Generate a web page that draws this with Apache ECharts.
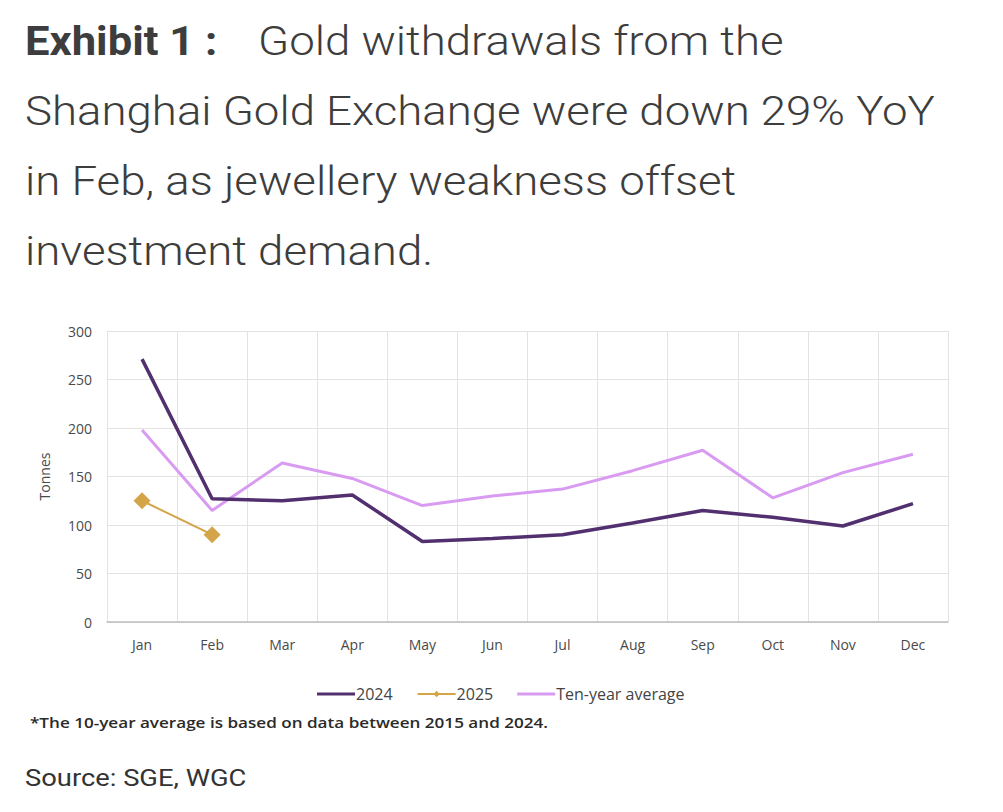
<!DOCTYPE html>
<html>
<head>
<meta charset="utf-8">
<script src="https://cdn.jsdelivr.net/npm/echarts@6/dist/echarts.min.js"></script>
<style>
  html, body { margin: 0; padding: 0; background: #fff; }
  #chart { width: 1003px; height: 812px; }
</style>
</head>
<body>
<div id="chart"></div>
<script>
// 数据
const months = ['Jan', 'Feb', 'Mar', 'Apr', 'May', 'Jun', 'Jul', 'Aug', 'Sep', 'Oct', 'Nov', 'Dec'];
const y2024 = [271, 127, 125, 131, 83, 86, 90, 102, 115, 108, 99, 122];
const y2025 = [125, 90];
const tenYearAvg = [198, 115, 164, 148, 120, 130, 137, 156, 177, 128, 154, 173];
const yTicks = { min: 0, max: 300, interval: 50 };

const headingLines = [
  'Shanghai Gold Exchange were down 29% YoY',
  'in Feb, as jewellery weakness offset',
  'investment demand.'
];

const C_2024 = '#52306f';
const C_2025 = '#d4a548';
const C_AVG = '#d99bf2';
const AXIS_FONT = '"Open Sans", sans-serif';
const HEAD = { fontFamily: 'Roboto', fontSize: 40, fill: '#3d3d3d' };
const STRETCH = 1.14; // 原图文字横向略宽
const LINE_ICON = 'path://M0,0H38V3H0Z';

const chart = echarts.init(document.getElementById('chart'), null, { renderer: 'svg' });

// 标题文字
const headingGraphics = [
  {
    type: 'text', x: 25, y: 21, scaleX: 1.09,
    style: Object.assign({ text: 'Exhibit 1 :', fontWeight: 'bold', verticalAlign: 'top' }, HEAD)
  },
  {
    type: 'text', x: 258, y: 21, scaleX: STRETCH,
    style: Object.assign({ text: 'Gold withdrawals from the', fontWeight: 300, verticalAlign: 'top' }, HEAD)
  }
];
headingLines.forEach((line, i) => {
  headingGraphics.push({
    type: 'text', x: 25, y: 91 + i * 70, scaleX: STRETCH,
    style: Object.assign({ text: line, fontWeight: 300, verticalAlign: 'top' }, HEAD)
  });
});

chart.setOption({
  animation: false,
  graphic: headingGraphics.concat([
    {
      type: 'text', x: 30, y: 715, scaleX: STRETCH,
      style: {
        text: '*The 10-year average is based on data between 2015 and 2024.',
        fontFamily: AXIS_FONT, fontWeight: 600, fontSize: 15, fill: '#2a2a2a', verticalAlign: 'top'
      }
    },
    {
      type: 'text', x: 25, y: 766, scaleX: STRETCH,
      style: { text: 'Source: SGE, WGC', fontFamily: 'Roboto', fontSize: 24, fill: '#333', verticalAlign: 'top' }
    }
  ]),
  legend: {
    top: 681, left: 312,
    itemWidth: 38, itemHeight: 8, itemGap: 24,
    textStyle: { fontFamily: AXIS_FONT, fontSize: 16, color: '#444', padding: [0, 0, 0, -4] },
    data: [
      { name: '2024', icon: LINE_ICON },
      { name: '2025' },
      { name: 'Ten-year average', icon: LINE_ICON }
    ]
  },
  grid: { left: 107, right: 55, top: 331, bottom: 190 },
  xAxis: {
    type: 'category',
    data: months,
    boundaryGap: true,
    axisLine: { lineStyle: { color: '#bdbdbd', width: 1.5 } },
    axisTick: { show: false },
    axisLabel: { fontFamily: AXIS_FONT, fontSize: 14, color: '#4a4a4a', margin: 15 },
    splitLine: { show: true, lineStyle: { color: '#e3e3e3' } }
  },
  yAxis: {
    type: 'value',
    min: yTicks.min, max: yTicks.max, interval: yTicks.interval,
    name: 'Tonnes',
    nameLocation: 'middle',
    nameGap: 56,
    nameTextStyle: { fontFamily: AXIS_FONT, fontSize: 14, color: '#4a4a4a' },
    axisLine: { show: true, lineStyle: { color: '#e3e3e3' } },
    axisTick: { show: false },
    axisLabel: { fontFamily: AXIS_FONT, fontSize: 14, color: '#4a4a4a', margin: 15 },
    splitLine: { lineStyle: { color: '#e3e3e3' } }
  },
  series: [
    {
      name: '2024', type: 'line', data: y2024,
      symbol: 'none', lineStyle: { color: C_2024, width: 3.5 }, itemStyle: { color: C_2024 }, z: 3
    },
    {
      name: '2025', type: 'line', data: y2025,
      symbol: 'diamond', symbolSize: 17,
      lineStyle: { color: C_2025, width: 2 }, itemStyle: { color: C_2025 }, z: 4
    },
    {
      name: 'Ten-year average', type: 'line', data: tenYearAvg,
      symbol: 'none', lineStyle: { color: C_AVG, width: 3 }, itemStyle: { color: C_AVG }, z: 2
    }
  ]
});
</script>
</body>
</html>
